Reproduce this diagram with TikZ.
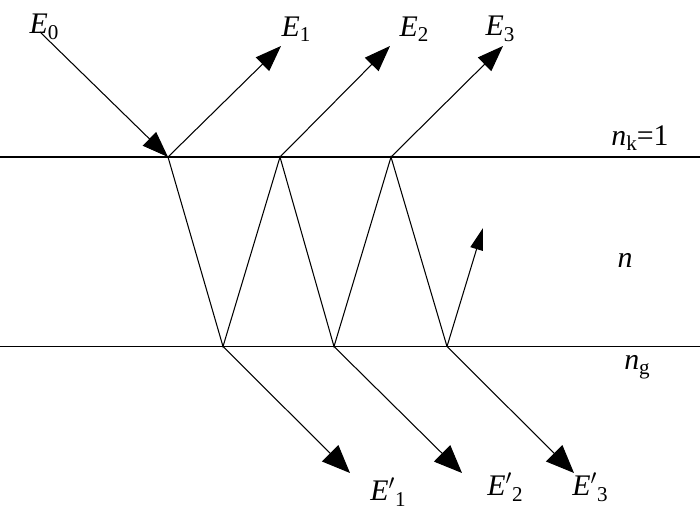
\documentclass[tikz,border=0pt]{standalone}
\usepackage{fontspec}
\setmainfont{Liberation Serif}
\usetikzlibrary{arrows.meta}
\newcommand\lo[1]{\raisebox{-0.4ex}{\fontsize{12}{13}\selectfont #1}}

\tikzset{
	ray/.style={line width=0.6pt},
	big/.style={ray, -{Triangle[length=5.2mm,width=3.8mm]}},
	bigger/.style={ray, -{Triangle[length=5.6mm,width=4.6mm]}},
	small/.style={ray, -{Triangle[length=4.4mm,width=2.6mm]}},
	lbl/.style={inner sep=0pt, font=\fontsize{17}{19}\selectfont}
}

\begin{document}
\begin{tikzpicture}
		%%%%% START %%%%%
		\useasboundingbox (0, 0) rectangle (14, 10.24);
		
		% interfaces
		\draw[line width=0.9pt] (0, 7.1) -- (14, 7.1);
		\draw[line width=0.9pt] (0, 3.31) -- (14, 3.31);
		
		% reflection points
		\coordinate (A1) at (3.36, 7.1);
		\coordinate (A2) at (5.6, 7.1);
		\coordinate (A3) at (7.82, 7.1);
		\coordinate (B1) at (4.46, 3.31);
		\coordinate (B2) at (6.68, 3.31);
		\coordinate (B3) at (8.94, 3.31);
		
		% ray ends
		\coordinate (S0) at (0.8, 9.6);
		\coordinate (T1) at (5.62, 9.32);
		\coordinate (T2) at (7.8, 9.32);
		\coordinate (T3) at (10.06, 9.32);
		\coordinate (U1) at (7.0, 0.78);
		\coordinate (U2) at (9.24, 0.78);
		\coordinate (U3) at (11.48, 0.78);
		\coordinate (R4) at (9.66, 5.68);
		
		\draw[big] (S0) -- (A1);
		\draw[big] (A1) -- (T1);
		\draw[big] (A2) -- (T2);
		\draw[big] (A3) -- (T3);
		
		\draw[ray] (A1) -- (B1) -- (A2) -- (B2) -- (A3) -- (B3);
		\draw[small] (B3) -- (R4);
		
		\draw[bigger] (B1) -- (U1);
		\draw[bigger] (B2) -- (U2);
		\draw[bigger] (B3) -- (U3);
		
		% labels
		\node[lbl] (e0) at (0.88, 9.7) {\textit{E}\lo{0}};
		\node[lbl] (e1) at (5.92, 9.66) {\textit{E}\lo{1}};
		\node[lbl] (e2) at (8.28, 9.66) {\textit{E}\lo{2}};
		\node[lbl] (e3) at (10.0, 9.66) {\textit{E}\lo{3}};
		\node[lbl] (nk) at (12.8, 7.48) {\textit{n}\lo{k}=1};
		\node[lbl] (nn) at (12.5, 5.04) {\textit{n}};
		\node[lbl] (ng) at (12.74, 2.9) {\textit{n}\lo{g}};
		\node[lbl] (f1) at (7.76, 0.4) {\textit{E}$'$\lo{1}};
		\node[lbl] (f2) at (10.1, 0.5) {\textit{E}$'$\lo{2}};
		\node[lbl] (f3) at (11.8, 0.5) {\textit{E}$'$\lo{3}};
		
		%%%%% END %%%%%
	\end{tikzpicture}
\end{document}
